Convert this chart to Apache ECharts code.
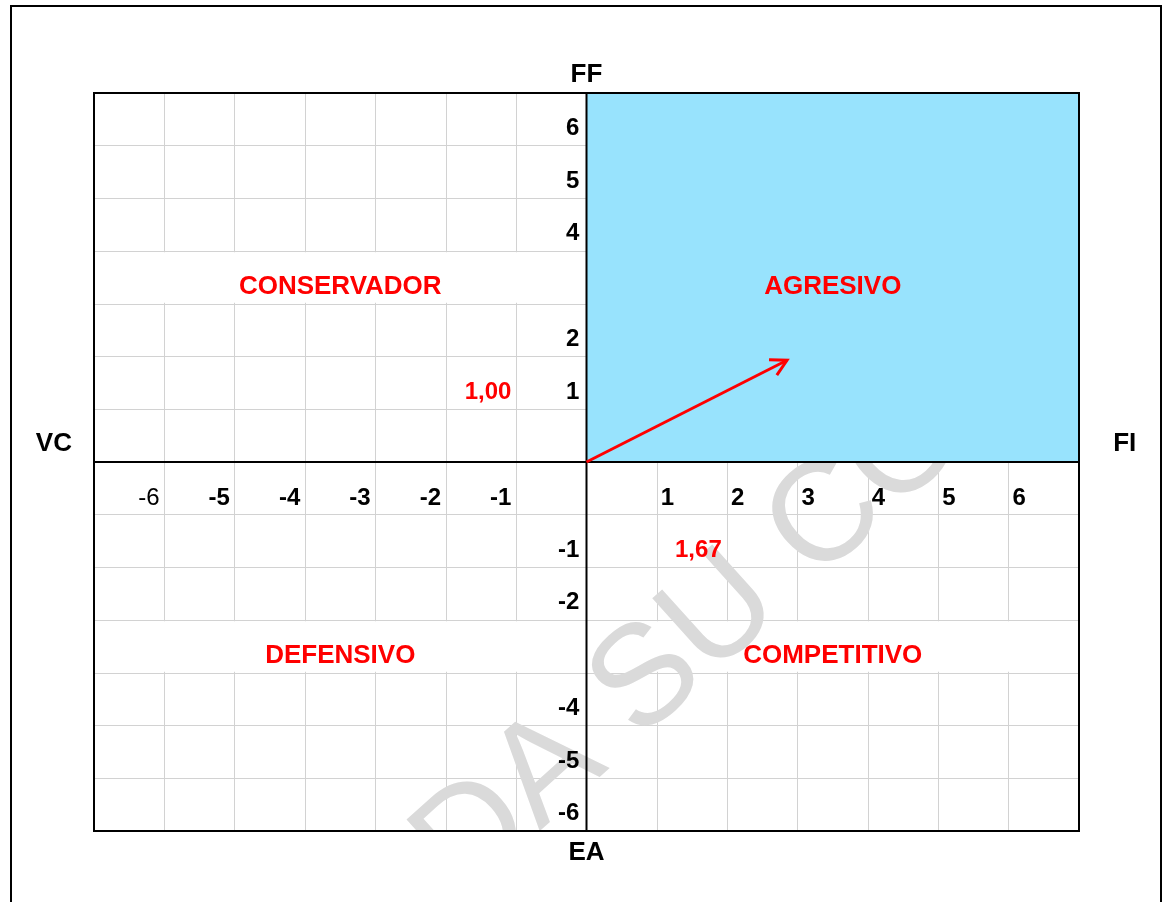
<!DOCTYPE html>
<html lang="es" style="height: 100%">

<head>
  <meta charset="utf-8" />
</head>

<body style="height: 100%; margin: 0; background: #ffffff">
  <div id="container" style="width: 1162px; height: 902px"></div>

  <script type="text/javascript" src="https://fastly.jsdelivr.net/npm/echarts@6/dist/echarts.min.js"></script>

  <script type="text/javascript">
    // values
    var axisMin = -7;
    var axisMax = 7;
    var xTicks = [-6, -5, -4, -3, -2, -1, 1, 2, 3, 4, 5, 6];
    var yTicks = [6, 5, 4, 2, 1, -1, -2, -4, -5, -6];
    var quadrantNames = ["CONSERVADOR", "AGRESIVO", "DEFENSIVO", "COMPETITIVO"];
    var quadrantPoints = [[-3.5, 3.33], [3.5, 3.33], [-3.5, -3.67], [3.5, -3.67]];
    var axisNames = ["FF", "EA", "VC", "FI"];
    var axisNamePoints = [[0, 7.34], [0, -7.42], [-7.57, 0.34], [7.65, 0.34]];
    var resultTexts = ["1,00", "1,67"];
    var resultPoints = [[-1.4, 1.32], [1.59, -1.68]];
    var vector = [[0, 0, 2.85, 1.93]];
    var activeQuadrant = [[0, 7, 0, 7]];
    var emptyRows = [[-7, 0, 3, 4], [-7, 7, -4, -3]];
    var watermarkText = "DA SU CO";
    var watermarkPoint = [[1.5, -3.4]];

    var FONT = "'Liberation Sans', Arial, sans-serif";

    var dom = document.getElementById("container");
    var myChart = echarts.init(dom, null, { renderer: "canvas" });

    function rectItem(api, fill, inset) {
      var a = api.coord([api.value(0), api.value(3)]);
      var b = api.coord([api.value(1), api.value(2)]);
      return {
        type: "rect",
        shape: {
          x: a[0] + inset,
          y: a[1] + inset,
          width: b[0] - a[0] - 2 * inset,
          height: b[1] - a[1] - 2 * inset
        },
        style: { fill: fill }
      };
    }

    function textLayer(points, texts, styleFor, z) {
      return {
        type: "custom",
        z: z,
        silent: true,
        data: points,
        encode: { x: 0, y: 1 },
        renderItem: function (params, api) {
          var p = api.coord([api.value(0), api.value(1)]);
          var s = styleFor(params.dataIndex);
          return {
            type: "text",
            x: p[0],
            y: p[1],
            style: {
              text: texts[params.dataIndex],
              font: s.font,
              fill: s.color,
              align: s.align,
              textAlign: s.align,
              verticalAlign: "middle",
              textVerticalAlign: "middle"
            }
          };
        }
      };
    }

    var xTickPoints = xTicks.map(function (k) {
      return [k + (k > 0 ? 0.15 : -0.22), -0.69];
    });
    var yTickPoints = yTicks.map(function (k) {
      return [-0.1, k > 0 ? k + 0.33 : k - 0.67];
    });

    var option = {
      animation: false,
      grid: { left: 94, top: 93, width: 985, height: 738 },
      xAxis: {
        type: "value",
        min: axisMin,
        max: axisMax,
        interval: 1,
        axisLine: { show: false },
        axisTick: { show: false },
        axisLabel: { show: false },
        splitLine: { show: true, lineStyle: { color: "#d2d2d2", width: 1 } }
      },
      yAxis: {
        type: "value",
        min: axisMin,
        max: axisMax,
        interval: 1,
        axisLine: { show: false },
        axisTick: { show: false },
        axisLabel: { show: false },
        splitLine: { show: true, lineStyle: { color: "#d2d2d2", width: 1 } }
      },
      graphic: [
        {
          type: "rect",
          z: 0,
          shape: { x: 11, y: 6, width: 1150, height: 930 },
          style: { fill: "none", stroke: "#000", lineWidth: 2 }
        }
      ],
      series: [
        {
          // rows where the sheet has no vertical lines
          type: "custom",
          z: 1,
          silent: true,
          data: emptyRows,
          encode: { x: [0, 1], y: [2, 3] },
          renderItem: function (params, api) {
            return rectItem(api, "#ffffff", 1);
          }
        },
        {
          type: "custom",
          z: 2,
          silent: true,
          clip: true,
          data: watermarkPoint,
          encode: { x: 0, y: 1 },
          renderItem: function (params, api) {
            var p = api.coord([api.value(0), api.value(1)]);
            return {
              type: "text",
              x: p[0],
              y: p[1],
              rotation: 42 * Math.PI / 180,
              style: {
                text: watermarkText,
                font: "normal 142px " + FONT,
                fill: "#dadada",
                align: "center",
                textAlign: "center",
                verticalAlign: "middle",
                textVerticalAlign: "middle"
              }
            };
          }
        },
        {
          type: "custom",
          z: 3,
          silent: true,
          data: activeQuadrant,
          encode: { x: [0, 1], y: [2, 3] },
          renderItem: function (params, api) {
            return rectItem(api, "#98e3fd", 0);
          }
        },
        {
          // frame and the two axes
          type: "custom",
          z: 4,
          silent: true,
          data: [[axisMin, axisMax, axisMin, axisMax]],
          encode: { x: [0, 1], y: [2, 3] },
          renderItem: function (params, api) {
            var a = api.coord([api.value(0), api.value(3)]);
            var b = api.coord([api.value(1), api.value(2)]);
            var o = api.coord([0, 0]);
            var st = { stroke: "#000", lineWidth: 2, fill: "none" };
            return {
              type: "group",
              children: [
                { type: "rect", shape: { x: a[0], y: a[1], width: b[0] - a[0], height: b[1] - a[1] }, style: st },
                { type: "line", shape: { x1: a[0], y1: o[1], x2: b[0], y2: o[1] }, style: st },
                { type: "line", shape: { x1: o[0], y1: a[1], x2: o[0], y2: b[1] }, style: st }
              ]
            };
          }
        },
        {
          type: "custom",
          z: 5,
          silent: true,
          data: vector,
          encode: { x: [0, 2], y: [1, 3] },
          renderItem: function (params, api) {
            var p0 = api.coord([api.value(0), api.value(1)]);
            var p1 = api.coord([api.value(2), api.value(3)]);
            var ang = Math.atan2(p1[1] - p0[1], p1[0] - p0[0]);
            var len = 18;
            var spread = 0.5;
            var h1 = [p1[0] - len * Math.cos(ang - spread), p1[1] - len * Math.sin(ang - spread)];
            var h2 = [p1[0] - len * Math.cos(ang + spread), p1[1] - len * Math.sin(ang + spread)];
            var st = { stroke: "#ff0000", lineWidth: 3, fill: "none", lineJoin: "miter" };
            return {
              type: "group",
              children: [
                { type: "line", shape: { x1: p0[0], y1: p0[1], x2: p1[0], y2: p1[1] }, style: st },
                { type: "polyline", shape: { points: [h1, p1, h2] }, style: st }
              ]
            };
          }
        },
        textLayer(xTickPoints, xTicks.map(String), function (i) {
          return {
            font: (xTicks[i] === -6 ? "normal" : "bold") + " 24px " + FONT,
            color: "#000",
            align: "center"
          };
        }, 6),
        textLayer(yTickPoints, yTicks.map(String), function () {
          return { font: "bold 24px " + FONT, color: "#000", align: "right" };
        }, 6),
        textLayer(quadrantPoints, quadrantNames, function () {
          return { font: "bold 26px " + FONT, color: "#ff0000", align: "center" };
        }, 6),
        textLayer(resultPoints, resultTexts, function () {
          return { font: "bold 24px " + FONT, color: "#ff0000", align: "center" };
        }, 6),
        textLayer(axisNamePoints, axisNames, function () {
          return { font: "bold 26px " + FONT, color: "#000", align: "center" };
        }, 6)
      ]
    };

    myChart.setOption(option);
    window.addEventListener("resize", myChart.resize);
  </script>
</body>

</html>
